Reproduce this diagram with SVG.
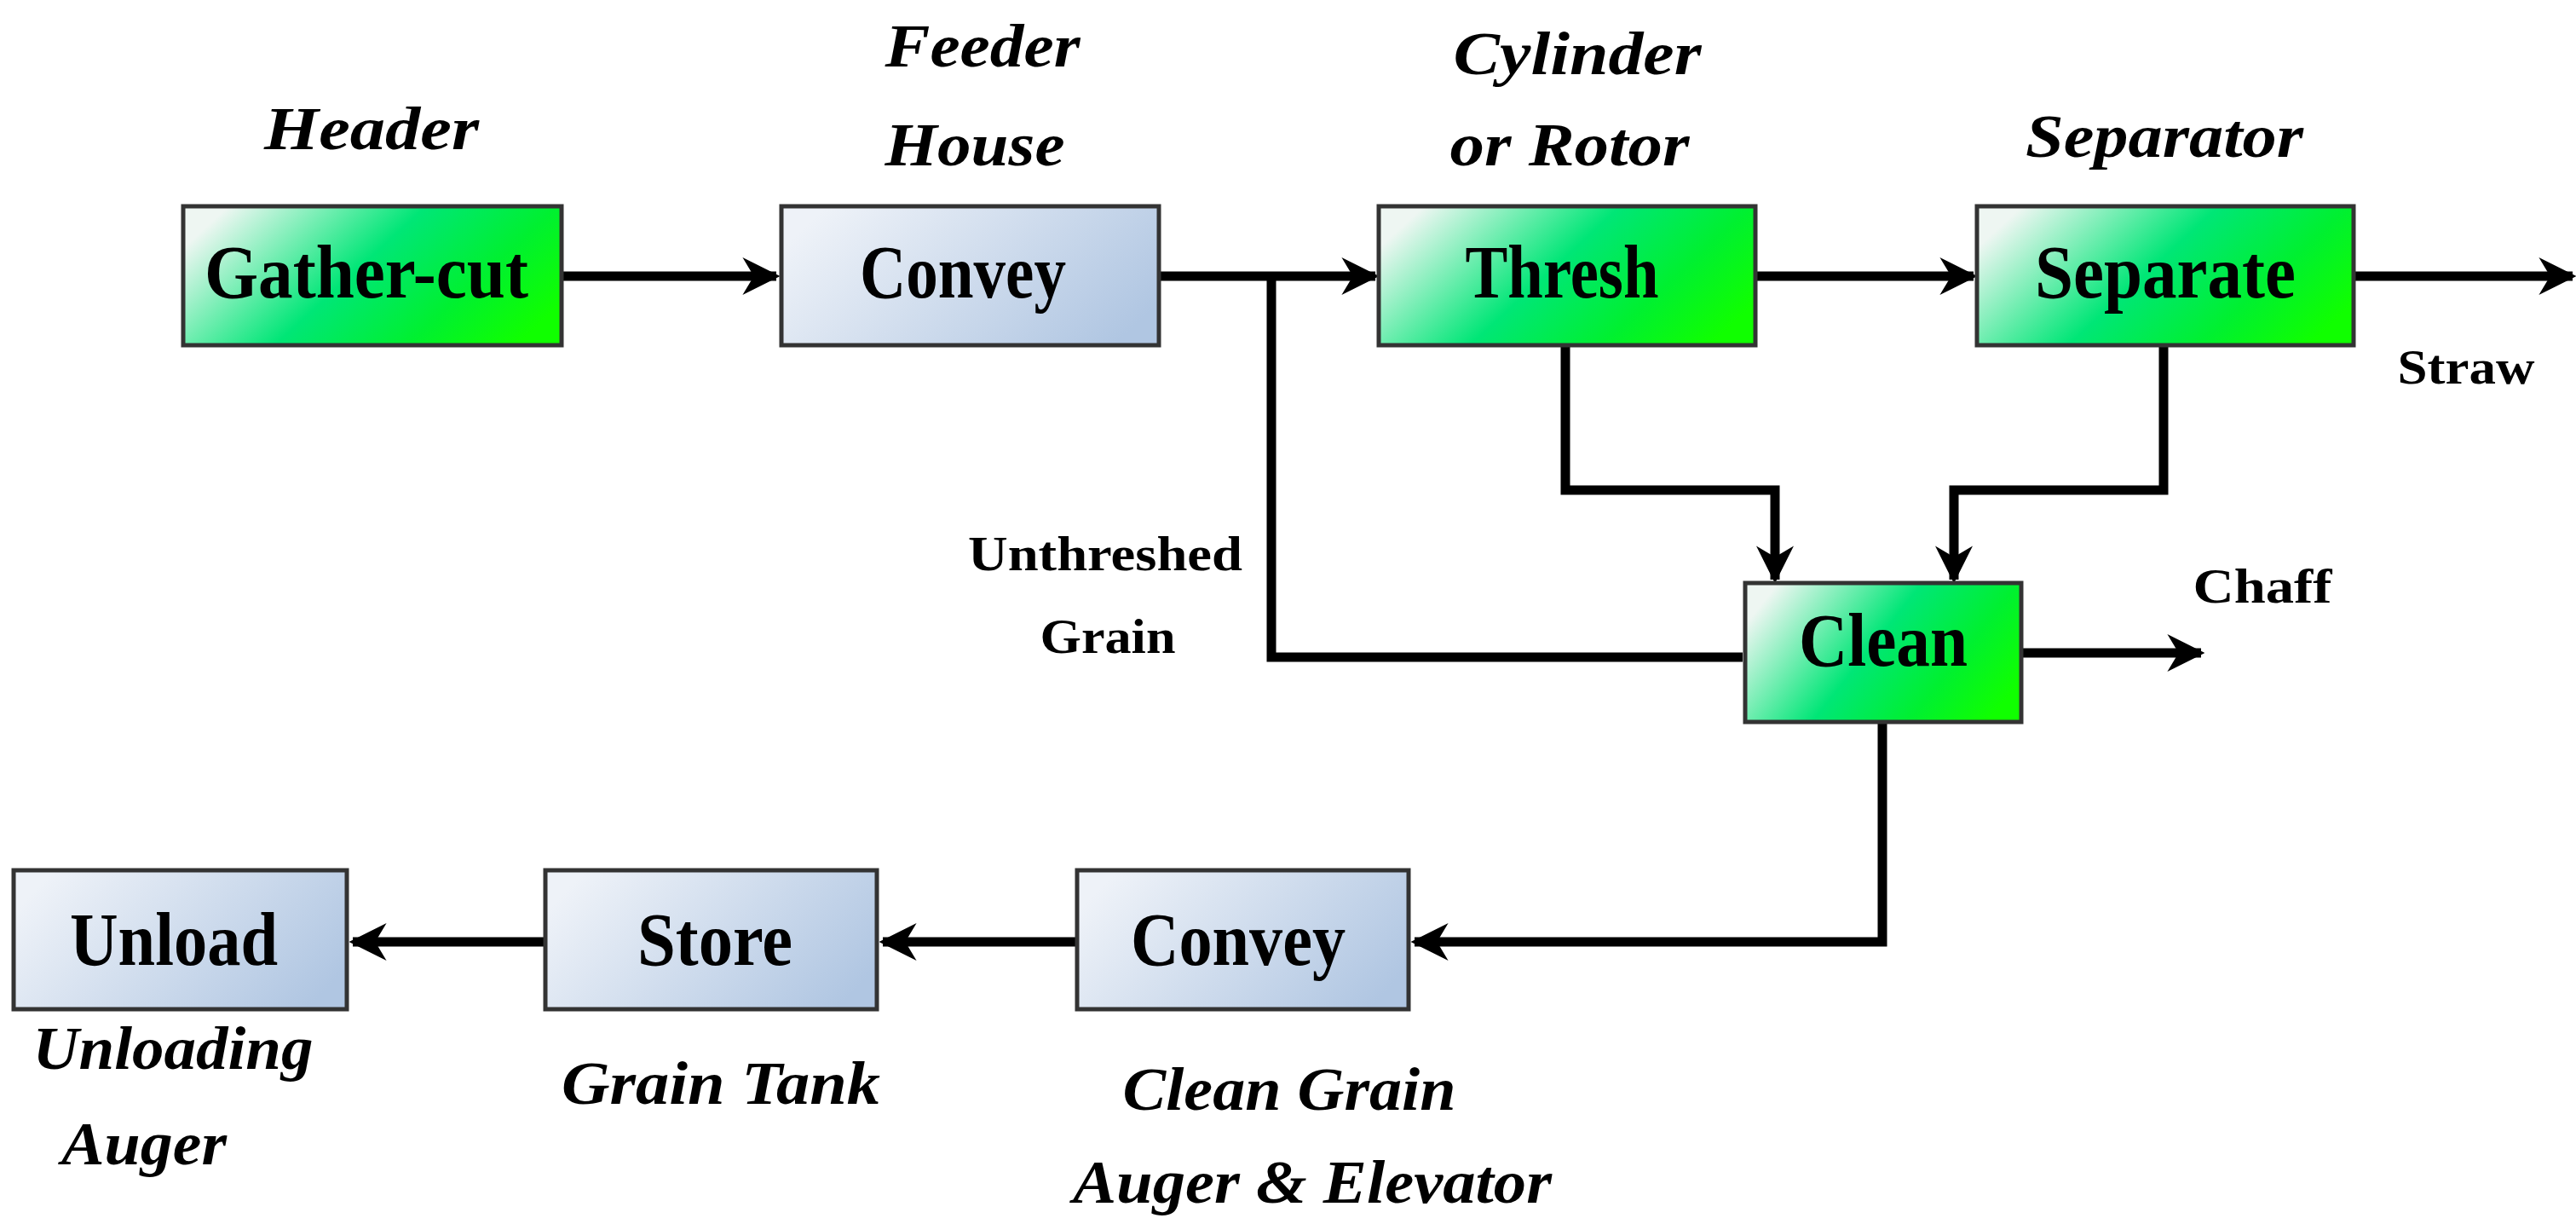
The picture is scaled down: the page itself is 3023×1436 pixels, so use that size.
<svg xmlns="http://www.w3.org/2000/svg" width="3023" height="1436" viewBox="0 0 3023 1436">
<defs>
<linearGradient id="gG" x1="0" y1="0.3" x2="1" y2="0.7"><stop offset="0" stop-color="#eef6f2"/><stop offset="0.45" stop-color="#00e676"/><stop offset="0.75" stop-color="#00f030"/><stop offset="1" stop-color="#10ff00"/></linearGradient>
<linearGradient id="gB" x1="0" y1="0.3" x2="1" y2="0.7"><stop offset="0" stop-color="#eef2f8"/><stop offset="1" stop-color="#b0c6e2"/></linearGradient>
<marker id="ar" viewBox="0 0 10 10" refX="9" refY="5" markerWidth="4" markerHeight="4" markerUnits="strokeWidth" orient="auto"><path d="M0,0 L10,5 L0,10 L3,5 Z" fill="#000"/></marker>
</defs>
<style>
.g{fill:url(#gG);stroke:#333;stroke-width:5}
.b{fill:url(#gB);stroke:#333;stroke-width:5}
.t{font-family:"Liberation Serif",serif;font-weight:bold;font-size:88px;text-anchor:middle;fill:#000}
.i{font-family:"Liberation Serif",serif;font-weight:bold;font-style:italic;font-size:72px;text-anchor:middle;fill:#000}
.s{font-family:"Liberation Serif",serif;font-weight:bold;font-size:58px;text-anchor:middle;fill:#000}
.c{fill:none;stroke:#000;stroke-width:11}
.a{marker-end:url(#ar)}
</style>
<g id="connectors">
<path class="c a" d="M659,324 H911"/>
<path class="c a" d="M1360,324 H1614"/>
<path class="c a" d="M2060,324 H2316"/>
<path class="c a" d="M2762,324 H3019"/>
<path class="c" d="M1492,324 V771 H2045"/>
<path class="c a" d="M1837,405 V575 H2083 V680"/>
<path class="c a" d="M2539,405 V575 H2293 V680"/>
<path class="c a" d="M2372,766 H2583"/>
<path class="c a" d="M2209,847 V1105 H1660"/>
<path class="c a" d="M1264,1105 H1036"/>
<path class="c a" d="M640,1105 H414"/>
</g>
<g id="gather"><rect class="g" x="215" y="242" width="444" height="163"/><text class="t" x="430" y="349" textLength="380" lengthAdjust="spacingAndGlyphs">Gather-cut</text></g>
<g id="convey1"><rect class="b" x="917" y="242" width="443" height="163"/><text class="t" x="1130" y="349" textLength="242" lengthAdjust="spacingAndGlyphs">Convey</text></g>
<g id="thresh"><rect class="g" x="1618" y="242" width="442" height="163"/><text class="t" x="1833" y="349" textLength="227" lengthAdjust="spacingAndGlyphs">Thresh</text></g>
<g id="separate"><rect class="g" x="2320" y="242" width="442" height="163"/><text class="t" x="2541" y="349" textLength="306" lengthAdjust="spacingAndGlyphs">Separate</text></g>
<g id="clean"><rect class="g" x="2048" y="684" width="324" height="163"/><text class="t" x="2210" y="781" textLength="198" lengthAdjust="spacingAndGlyphs">Clean</text></g>
<g id="unload"><rect class="b" x="16" y="1021" width="391" height="163"/><text class="t" x="204" y="1132" textLength="244" lengthAdjust="spacingAndGlyphs">Unload</text></g>
<g id="store"><rect class="b" x="640" y="1021" width="389" height="163"/><text class="t" x="839" y="1132" textLength="182" lengthAdjust="spacingAndGlyphs">Store</text></g>
<g id="convey2"><rect class="b" x="1264" y="1021" width="389" height="163"/><text class="t" x="1453" y="1132" textLength="252" lengthAdjust="spacingAndGlyphs">Convey</text></g>
<g id="labels">
<text class="i" x="436" y="175" textLength="252" lengthAdjust="spacingAndGlyphs">Header</text>
<text class="i" x="1153" y="78" textLength="229" lengthAdjust="spacingAndGlyphs">Feeder</text>
<text class="i" x="1144" y="194" textLength="211" lengthAdjust="spacingAndGlyphs">House</text>
<text class="i" x="1851" y="87" textLength="291" lengthAdjust="spacingAndGlyphs">Cylinder</text>
<text class="i" x="1842" y="194" textLength="281" lengthAdjust="spacingAndGlyphs">or Rotor</text>
<text class="i" x="2540" y="184" textLength="326" lengthAdjust="spacingAndGlyphs">Separator</text>
<text class="s" x="2894" y="450" textLength="161" lengthAdjust="spacingAndGlyphs">Straw</text>
<text class="s" x="1297" y="669" textLength="322" lengthAdjust="spacingAndGlyphs">Unthreshed</text>
<text class="s" x="1300" y="766" textLength="159" lengthAdjust="spacingAndGlyphs">Grain</text>
<text class="s" x="2655" y="707" textLength="163" lengthAdjust="spacingAndGlyphs">Chaff</text>
<text class="i" x="203" y="1254" textLength="329" lengthAdjust="spacingAndGlyphs">Unloading</text>
<text class="i" x="169" y="1366" textLength="194" lengthAdjust="spacingAndGlyphs">Auger</text>
<text class="i" x="846" y="1295" textLength="374" lengthAdjust="spacingAndGlyphs">Grain Tank</text>
<text class="i" x="1513" y="1302" textLength="391" lengthAdjust="spacingAndGlyphs">Clean Grain</text>
<text class="i" x="1540" y="1411" textLength="562" lengthAdjust="spacingAndGlyphs">Auger &amp; Elevator</text>
</g>
</svg>
